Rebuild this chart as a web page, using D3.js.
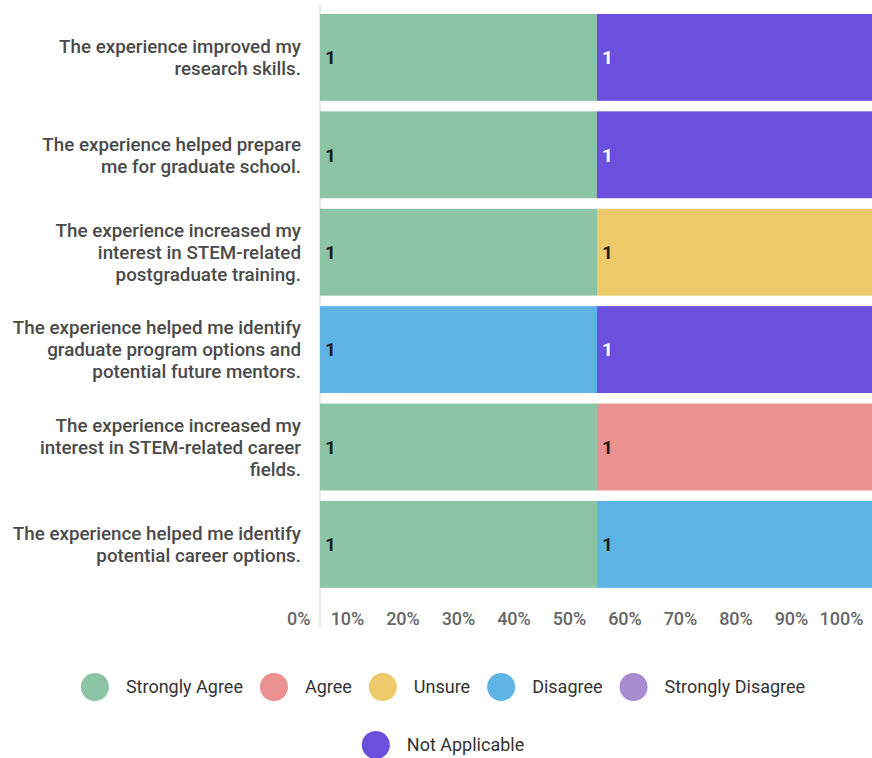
<!DOCTYPE html>
<html>
<head>
<meta charset="utf-8">
<script src="https://cdn.jsdelivr.net/npm/d3@7"></script>
<style>
  html, body { margin: 0; padding: 0; background: #ffffff; }
  svg { display: block; font-family: Roboto, "Noto Sans", sans-serif; }
</style>
</head>
<body>
<svg id="chart" width="872" height="758"></svg>
<script>
// ---- data ----
const statements = [
  "The experience improved my research skills.",
  "The experience helped prepare me for graduate school.",
  "The experience increased my interest in STEM-related postgraduate training.",
  "The experience helped me identify graduate program options and potential future mentors.",
  "The experience increased my interest in STEM-related career fields.",
  "The experience helped me identify potential career options."
];
const statementLines = [
  ["The experience improved my", "research skills."],
  ["The experience helped prepare", "me for graduate school."],
  ["The experience increased my", "interest in STEM-related", "postgraduate training."],
  ["The experience helped me identify", "graduate program options and", "potential future mentors."],
  ["The experience increased my", "interest in STEM-related career", "fields."],
  ["The experience helped me identify", "potential career options."]
];
const responses = ["Strongly Agree", "Agree", "Unsure", "Disagree", "Strongly Disagree", "Not Applicable"];
const colors = ["#8dc4a6", "#ea9192", "#efca6a", "#5db4e5", "#a98bd1", "#6a50dc"];
// counts per statement, in order of responses
const stronglyAgree    = [1, 1, 1, 0, 1, 1];
const agree            = [0, 0, 0, 0, 1, 0];
const unsure           = [0, 0, 1, 0, 0, 0];
const disagree         = [0, 0, 0, 1, 0, 1];
const stronglyDisagree = [0, 0, 0, 0, 0, 0];
const notApplicable    = [1, 1, 0, 1, 0, 0];
const tickValues = [0, 0.1, 0.2, 0.3, 0.4, 0.5, 0.6, 0.7, 0.8, 0.9, 1.0];

const seriesValues = [stronglyAgree, agree, unsure, disagree, stronglyDisagree, notApplicable];
const table = statements.map((s, i) => {
  const row = { statement: s, index: i };
  responses.forEach((r, k) => { row[r] = seriesValues[k][i]; });
  return row;
});

const svg = d3.select("#chart");

const y = d3.scaleBand()
  .domain(statements)
  .range([8.7, 593.1])
  .paddingInner(0.108)
  .paddingOuter(0.054);

const x = d3.scaleLinear().domain([0, 1]).range([320, 874]);
const color = d3.scaleOrdinal().domain(responses).range(colors);

const stack = d3.stack().keys(responses).offset(d3.stackOffsetExpand);
const series = stack(table);

// axis line
svg.append("line")
  .attr("x1", 320).attr("x2", 320)
  .attr("y1", 5).attr("y2", 628)
  .attr("stroke", "#e2e2e2").attr("stroke-width", 1.5);

// bars
const groups = svg.append("g").selectAll("g")
  .data(series).join("g")
  .attr("fill", d => color(d.key));

groups.selectAll("rect")
  .data(d => d.filter(p => p[1] - p[0] > 0).map(p => Object.assign(p, { key: d.key })))
  .join("rect")
  .attr("x", d => x(d[0]))
  .attr("y", d => y(d.data.statement))
  .attr("width", d => x(d[1]) - x(d[0]))
  .attr("height", y.bandwidth());

// value labels
groups.selectAll("text")
  .data(d => d.filter(p => p[1] - p[0] > 0))
  .join("text")
  .attr("x", d => x(d[0]) + 5)
  .attr("y", d => y(d.data.statement) + y.bandwidth() / 2)
  .attr("dy", "0.36em")
  .attr("font-size", 19)
  .attr("font-weight", 700)
  .attr("fill", d => d.key === "Not Applicable" ? "#ffffff" : "#1b1b1b")
  .text(d => d.data[d.key]);

// y labels
const lineH = 22;
const ylab = svg.append("g").selectAll("text")
  .data(table).join("text")
  .attr("text-anchor", "end")
  .attr("font-size", 18.8)
  .attr("font-weight", 500)
  .attr("fill", "#4a4a4a");
ylab.each(function (d) {
  const lines = statementLines[d.index];
  const cy = y(d.statement) + y.bandwidth() / 2;
  const t = d3.select(this);
  lines.forEach((ln, j) => {
    t.append("tspan")
      .attr("x", 301)
      .attr("y", cy + (j - (lines.length - 1) / 2) * lineH)
      .attr("dy", "0.36em")
      .text(ln);
  });
});

// x tick labels (rendered with their own offset scale, as in the original)
const tickScale = d3.scaleLinear().domain([0, 1]).range([291.5, 846.5]);
const axis = svg.append("g")
  .attr("transform", "translate(0,611)")
  .call(d3.axisBottom(tickScale).tickValues(tickValues).tickFormat(d3.format(".0%")).tickSize(0).tickPadding(0));
axis.select(".domain").remove();
axis.selectAll("text")
  .attr("font-family", "Roboto, sans-serif")
  .attr("font-size", 18)
  .attr("font-weight", 500)
  .attr("fill", "#666666")
  .attr("dy", "0.36em")
  .attr("y", 8);
axis.selectAll(".tick").filter(d => d === 0).select("text")
  .attr("text-anchor", "end").attr("x", 310 - tickScale(0));
axis.selectAll(".tick").filter(d => d === 1).select("text")
  .attr("text-anchor", "end").attr("x", 863 - tickScale(1));

// legend
const legendRows = [responses.slice(0, 5), responses.slice(5)];
const legendY = [687, 745];
const legendCenter = 443;
const legend = svg.append("g");
legendRows.forEach((row, ri) => {
  const g = legend.append("g");
  let cx = 0;
  row.forEach((r, k) => {
    const item = g.append("g").attr("transform", `translate(${cx},0)`);
    item.append("circle").attr("cx", 0).attr("cy", 0).attr("r", 14).attr("fill", color(r));
    const t = item.append("text")
      .attr("x", 31).attr("y", 0).attr("dy", "0.36em")
      .attr("font-size", 18).attr("font-weight", 400)
      .attr("fill", "#333333").text(r);
    const w = t.node().getComputedTextLength();
    cx += 31 + w + 31;
  });
  const bb = g.node().getBBox();
  g.attr("transform", `translate(${legendCenter - (bb.x + bb.width / 2)},${legendY[ri]})`);
});
</script>
</body>
</html>
